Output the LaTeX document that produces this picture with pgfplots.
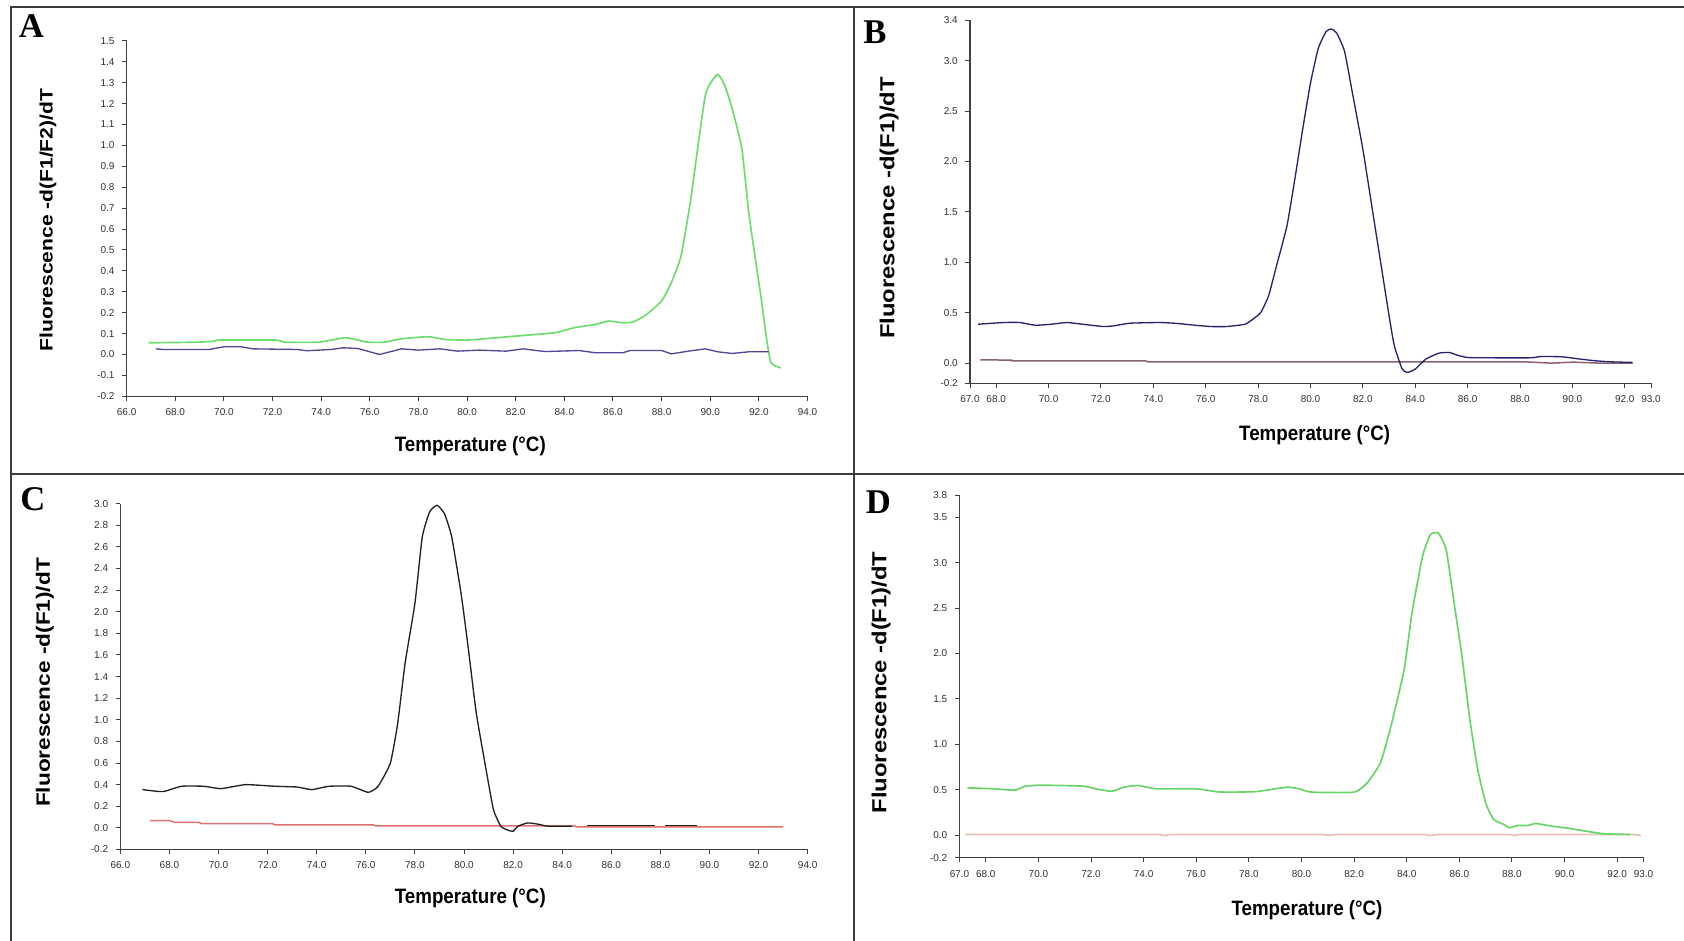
\documentclass[border=0pt]{standalone}
\usepackage{fontspec}
\setmainfont{Liberation Sans}
\newfontfamily\tickfont{Liberation Sans}
\newfontfamily\labfont[FakeStretch=0.9]{Liberation Sans}
\newfontfamily\ylabfont[FakeStretch=1.17]{Liberation Sans}
\newfontfamily\letterfont{Liberation Serif}
\usepackage{pgfplots}
\pgfplotsset{compat=1.18}
\definecolor{framegray}{HTML}{3C3C3C}
\definecolor{axisgray}{HTML}{404040}
\definecolor{tickgray}{HTML}{303030}
\definecolor{agreen}{HTML}{6CDC6C}
\definecolor{apurple}{HTML}{54449A}
\definecolor{bnavy}{HTML}{24246E}
\definecolor{bmauve}{HTML}{8A6070}
\definecolor{cblack}{HTML}{202020}
\definecolor{cred}{HTML}{E07070}
\definecolor{dgreen}{HTML}{66D466}
\definecolor{dpink}{HTML}{E8C0B0}
\pgfplotsset{panel/.style={
  scale only axis, anchor=south west,
  axis x line*=bottom, axis y line*=left,
  axis line style={draw=axisgray, line width=0.8pt, -},
  tick align=outside, major tick length=2.8pt,
  every tick/.style={draw=axisgray, line width=0.6pt},
  ticklabel style={font=\tickfont\fontsize{6}{7}\selectfont, text=tickgray},
  xticklabel style={yshift=-1pt},
  yticklabel style={xshift=-1pt},
  clip=false,
}}
\begin{document}
\begin{tikzpicture}
\path[use as bounding box] (0pt,0pt) rectangle (1010.4pt,564.6pt);
% frame
\draw[framegray, line width=1.4pt] (6.6pt,0pt) -- (6.6pt,560.4pt) -- (1010.4pt,560.4pt);
\draw[framegray, line width=1.4pt] (512.4pt,0pt) -- (512.4pt,560.4pt);
\draw[framegray, line width=1.4pt] (6.6pt,280.2pt) -- (1010.4pt,280.2pt);

% ---------------- A
\begin{axis}[panel, at={(76.0pt,326.8pt)}, width=408.5pt, height=213.3pt,
  xmin=66, xmax=94, ymin=-0.2, ymax=1.5,
  xtick={66,68,...,94},
  xticklabels={66.0,68.0,70.0,72.0,74.0,76.0,78.0,80.0,82.0,84.0,86.0,88.0,90.0,92.0,94.0},
  ytick={-0.2,-0.1,0,0.1,0.2,0.3,0.4,0.5,0.6,0.7,0.8,0.9,1.0,1.1,1.2,1.3,1.4,1.5},
  yticklabels={-0.2,-0.1,0.0,0.1,0.2,0.3,0.4,0.5,0.6,0.7,0.8,0.9,1.0,1.1,1.2,1.3,1.4,1.5}]
\addplot[agreen, line width=1pt, smooth, tension=0.3] coordinates {
(66.9,0.056)(68.9,0.059)(69.6,0.064)(69.8,0.069)(72.1,0.069)(72.5,0.059)(73.9,0.059)
(75.0,0.080)(75.9,0.059)(76.6,0.059)(77.3,0.075)(78.4,0.085)(79.1,0.072)(80.0,0.069)
(81.2,0.080)(82.3,0.091)(83.6,0.104)(84.4,0.128)(85.3,0.144)(85.8,0.160)(86.4,0.152)
(86.8,0.155)(87.3,0.184)(88.0,0.256)(88.4,0.344)(88.8,0.472)(89.2,0.744)(89.8,1.240)
(90.3,1.339)(90.6,1.285)(90.9,1.176)(91.3,0.984)(91.6,0.664)(92.1,0.264)(92.3,0.088)
(92.5,-0.040)(92.9,-0.064)};
\addplot[apurple, line width=0.8pt] coordinates {
(67.2,0.027)(67.5,0.024)(69.4,0.024)(70.0,0.037)(70.7,0.037)(71.2,0.027)(73.0,0.024)
(73.4,0.018)(74.4,0.024)(74.9,0.032)(75.5,0.029)(76.4,0.000)(77.3,0.027)(78.0,0.021)
(78.9,0.027)(79.6,0.016)(80.5,0.021)(81.6,0.016)(82.3,0.027)(83.2,0.014)(84.6,0.019)
(85.3,0.008)(86.4,0.008)(86.7,0.019)(88.0,0.019)(88.4,0.003)(89.1,0.016)(89.8,0.027)
(90.3,0.013)(90.9,0.005)(91.6,0.013)(92.4,0.013)};
\end{axis}

% ---------------- B
\begin{axis}[panel, at={(582.0pt,334.6pt)}, width=408.6pt, height=217.8pt,
  xmin=67, xmax=93, ymin=-0.2, ymax=3.4,
  xtick={67,68,70,72,74,76,78,80,82,84,86,88,90,92,93},
  xticklabels={67.0,68.0,70.0,72.0,74.0,76.0,78.0,80.0,82.0,84.0,86.0,88.0,90.0,92.0,93.0},
  ytick={-0.2,0,0.5,1.0,1.5,2.0,2.5,3.0,3.4},
  yticklabels={-0.2,0.0,0.5,1.0,1.5,2.0,2.5,3.0,3.4}]
\addplot[bmauve, line width=0.9pt] coordinates {
(67.4,0.033)(68.6,0.030)(68.6,0.023)(73.7,0.023)(73.8,0.013)(88.2,0.013)(89.2,0.0)
(90.0,0.010)(91.1,0.0)(92.3,0.0)};
\addplot[bnavy, line width=0.8pt, smooth, tension=0.3] coordinates {
(67.3,0.386)(68.3,0.403)(68.9,0.403)(69.5,0.376)(70.1,0.386)(70.7,0.403)(71.3,0.386)
(72.1,0.363)(72.5,0.370)(73.1,0.396)(74.2,0.403)(74.8,0.396)(75.6,0.376)(76.2,0.363)
(76.8,0.363)(77.5,0.386)(77.8,0.436)(78.1,0.502)(78.4,0.667)(78.7,0.964)(79.1,1.36)
(79.4,1.822)(79.7,2.317)(80.0,2.779)(80.3,3.125)(80.6,3.29)(80.8,3.314)(81.0,3.274)
(81.3,3.092)(81.6,2.68)(82.0,2.119)(82.4,1.459)(82.7,0.964)(83.0,0.469)(83.2,0.172)
(83.5,-0.059)(83.7,-0.092)(84.0,-0.059)(84.4,0.040)(84.9,0.099)(85.3,0.106)(85.6,0.079)
(86.0,0.056)(86.8,0.053)(88.4,0.053)(88.8,0.066)(89.6,0.063)(90.3,0.040)(90.9,0.023)
(91.5,0.013)(92.3,0.007)};
\end{axis}

% ---------------- C
\begin{axis}[panel, at={(72.2pt,54.9pt)}, width=412.4pt, height=207.5pt,
  xmin=66, xmax=94, ymin=-0.2, ymax=3.0,
  xtick={66,68,...,94},
  xticklabels={66.0,68.0,70.0,72.0,74.0,76.0,78.0,80.0,82.0,84.0,86.0,88.0,90.0,92.0,94.0},
  ytick={-0.2,0,0.2,0.4,0.6,0.8,1.0,1.2,1.4,1.6,1.8,2.0,2.2,2.4,2.6,2.8,3.0},
  yticklabels={-0.2,0.0,0.2,0.4,0.6,0.8,1.0,1.2,1.4,1.6,1.8,2.0,2.2,2.4,2.6,2.8,3.0}]
\addplot[cred, line width=0.9pt] coordinates {
(67.2,0.068)(68.0,0.068)(68.2,0.052)(69.2,0.052)(69.3,0.040)(72.2,0.040)(72.3,0.028)
(76.3,0.028)(76.4,0.018)(84.5,0.018)(84.6,0.009)(93.0,0.009)};
\addplot[cblack, line width=0.8pt, smooth, tension=0.3] coordinates {
(66.9,0.354)(67.5,0.338)(67.8,0.338)(68.5,0.385)(69.4,0.385)(70.1,0.363)(71.1,0.400)
(72.3,0.385)(73.2,0.378)(73.8,0.354)(74.5,0.385)(75.4,0.385)(76.1,0.329)(76.5,0.385)
(77.0,0.600)(77.3,0.969)(77.6,1.523)(78.0,2.077)(78.3,2.692)(78.6,2.923)(78.9,2.985)
(79.2,2.908)(79.5,2.692)(79.9,2.138)(80.2,1.615)(80.5,1.062)(80.9,0.538)(81.2,0.169)
(81.5,0.015)(81.8,-0.022)(82.0,-0.031)(82.2,0.015)(82.6,0.046)(83.1,0.031)(83.4,0.015)
(84.4,0.015)};
\addplot[cblack, line width=0.8pt] coordinates {(85.0,0.020)(87.8,0.020)};
\addplot[cblack, line width=0.8pt] coordinates {(88.2,0.020)(89.5,0.020)};
\end{axis}

% ---------------- D
\begin{axis}[panel, at={(575.7pt,49.9pt)}, width=410.4pt, height=217.4pt,
  xmin=67, xmax=93, ymin=-0.25, ymax=3.74,
  xtick={67,68,70,72,74,76,78,80,82,84,86,88,90,92,93},
  xticklabels={67.0,68.0,70.0,72.0,74.0,76.0,78.0,80.0,82.0,84.0,86.0,88.0,90.0,92.0,93.0},
  ytick={-0.25,0,0.5,1.0,1.5,2.0,2.5,3.0,3.5,3.74},
  yticklabels={-0.2,0.0,0.5,1.0,1.5,2.0,2.5,3.0,3.5,3.8}]
\addplot[dpink, line width=1pt] coordinates {
(67.2,0.007)(74.6,0.007)(74.8,-0.004)(75.0,0.007)(80.8,0.007)(81.0,-0.004)(81.3,0.007)
(84.7,0.007)(84.9,-0.004)(85.2,0.007)(87.9,0.007)(88.1,-0.004)(88.3,0.007)(92.6,0.007)
(92.9,-0.004)};
\addplot[dgreen, line width=1pt, smooth, tension=0.3] coordinates {
(67.3,0.521)(68.3,0.510)(69.1,0.495)(69.5,0.539)(70.1,0.550)(71.7,0.539)(72.3,0.502)
(72.8,0.484)(73.3,0.532)(73.8,0.546)(74.5,0.510)(76.0,0.510)(76.8,0.477)(77.4,0.473)
(78.3,0.480)(79.0,0.510)(79.5,0.528)(79.9,0.510)(80.4,0.473)(82.0,0.473)(82.5,0.576)
(83.0,0.796)(83.4,1.199)(83.9,1.822)(84.2,2.446)(84.6,3.070)(84.9,3.308)(85.2,3.326)
(85.5,3.143)(85.8,2.556)(86.1,1.969)(86.4,1.272)(86.7,0.722)(87.0,0.356)(87.3,0.172)
(87.7,0.117)(87.9,0.081)(88.2,0.106)(88.6,0.106)(88.9,0.128)(89.5,0.099)(90.1,0.077)
(90.8,0.044)(91.5,0.015)(92.5,0.007)};
\end{axis}

% panel letters
\node[font=\letterfont\bfseries\fontsize{20.8}{22}\selectfont] at (18.9pt,548.7pt) {A};
\node[font=\letterfont\bfseries\fontsize{20.8}{22}\selectfont] at (525.0pt,545.4pt) {B};
\node[font=\letterfont\bfseries\fontsize{20.8}{22}\selectfont] at (19.8pt,265.2pt) {C};
\node[font=\letterfont\bfseries\fontsize{20.8}{22}\selectfont] at (527.1pt,263.0pt) {D};
% x labels
\node[font=\labfont\bfseries\fontsize{12.5}{14}\selectfont] at (282.2pt,297.2pt) {Temperature (°C)};
\node[font=\labfont\bfseries\fontsize{12.5}{14}\selectfont] at (788.8pt,303.6pt) {Temperature (°C)};
\node[font=\labfont\bfseries\fontsize{12.5}{14}\selectfont] at (282.2pt,25.9pt) {Temperature (°C)};
\node[font=\labfont\bfseries\fontsize{12.5}{14}\selectfont] at (784.2pt,18.8pt) {Temperature (°C)};
% y labels
\node[rotate=90, font=\ylabfont\bfseries\fontsize{10.8}{12}\selectfont] at (28.8pt,432.6pt) {Fluorescence -d(F1/F2)/dT};
\node[rotate=90, font=\ylabfont\bfseries\fontsize{12.2}{14}\selectfont] at (533.4pt,439.8pt) {Fluorescence -d(F1)/dT};
\node[rotate=90, font=\ylabfont\bfseries\fontsize{11.6}{13}\selectfont] at (27.0pt,155.1pt) {Fluorescence -d(F1)/dT};
\node[rotate=90, font=\ylabfont\bfseries\fontsize{12.2}{14}\selectfont] at (528.6pt,155.1pt) {Fluorescence -d(F1)/dT};
\end{tikzpicture}
\end{document}
